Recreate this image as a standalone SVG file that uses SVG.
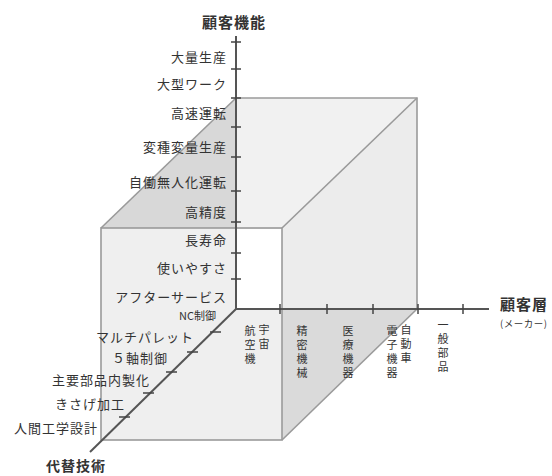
<svg xmlns="http://www.w3.org/2000/svg" width="552" height="476" viewBox="0 0 552 476">
<style>
text{font-family:"Noto Sans CJK JP","Noto Sans",sans-serif;fill:#333}
.lb{font-size:13px;letter-spacing:1px;text-anchor:end}
.vt{font-size:11px;writing-mode:vertical-rl;letter-spacing:3px}
.ttl{font-size:15px;font-weight:bold;letter-spacing:1px}
.edge{stroke:#9a9a9a;stroke-width:1.6;fill:none}
.axis{stroke:#555;stroke-width:2;fill:none}
.tick{stroke:#444;stroke-width:1.5}
</style>
<rect width="552" height="476" fill="#fff"/>
<g id="cube">
  <polygon points="101,228 236,98 236,309 101,440" fill="#d8d8d8"/>
  <polygon points="101,440 236,309 417,309 282,440" fill="#dadada"/>
  <rect x="236" y="98" width="181" height="211" fill="#f1f1f1"/>
  <polygon points="282,228 417,98 417,309 282,309" fill="#ececec"/>
  <rect x="101" y="228" width="181" height="212" fill="#efefef"/>
  <rect x="237" y="229" width="45" height="80" fill="#fff"/>
  <g class="edge">
    <polyline points="236,98 417,98 417,309"/>
    <line x1="101" y1="228" x2="236" y2="98"/>
    <line x1="282" y1="228" x2="417" y2="98"/>
    <line x1="282" y1="440" x2="417" y2="309"/>
    <rect x="101" y="228" width="181" height="212"/>
  </g>
</g>
<g id="connectors">
  <line class="axis" x1="236" y1="36" x2="236" y2="309"/>
  <line class="axis" x1="236" y1="309" x2="489" y2="309"/>
  <line class="axis" x1="236" y1="309" x2="90" y2="452"/>
  <g class="tick">
    <line x1="231" y1="42" x2="241" y2="42"/>
    <line x1="231" y1="69" x2="241" y2="69"/>
    <line x1="231" y1="98" x2="241" y2="98"/>
    <line x1="231" y1="127" x2="241" y2="127"/>
    <line x1="231" y1="157" x2="241" y2="157"/>
    <line x1="231" y1="191" x2="241" y2="191"/>
    <line x1="231" y1="222" x2="241" y2="222"/>
    <line x1="231" y1="253" x2="241" y2="253"/>
    <line x1="231" y1="279" x2="241" y2="279"/>
    <line x1="280" y1="304" x2="280" y2="314"/>
    <line x1="327" y1="304" x2="327" y2="314"/>
    <line x1="373" y1="304" x2="373" y2="314"/>
    <line x1="418" y1="304" x2="418" y2="314"/>
    <line x1="463" y1="304" x2="463" y2="314"/>
    <line x1="210" y1="332" x2="221" y2="332"/>
    <line x1="187" y1="352" x2="198" y2="352"/>
    <line x1="166" y1="372" x2="177" y2="372"/>
    <line x1="143" y1="393" x2="154" y2="393"/>
    <line x1="119" y1="417" x2="130" y2="417"/>
  </g>
</g>
<g id="axis-y-labels">
  <text class="ttl" x="202" y="28">顧客機能</text>
  <text class="lb" x="227" y="62">大量生産</text>
  <text class="lb" x="227" y="89">大型ワーク</text>
  <text class="lb" x="227" y="118">高速運転</text>
  <text class="lb" x="227" y="152">変種変量生産</text>
  <text class="lb" x="227" y="187">自働無人化運転</text>
  <text class="lb" x="227" y="217">高精度</text>
  <text class="lb" x="227" y="245">長寿命</text>
  <text class="lb" x="227" y="273">使いやすさ</text>
  <text class="lb" x="227" y="302">アフターサービス</text>
</g>
<g id="axis-x-labels">
  <text class="ttl" x="500" y="310">顧客層</text>
  <text x="500" y="327" style="font-size:9.5px;letter-spacing:0.5px">(メーカー)</text>
  <text class="vt" x="264" y="324">宇宙</text>
  <text class="vt" x="250" y="325">航空機</text>
  <text class="vt" x="302" y="325">精密機械</text>
  <text class="vt" x="348" y="325">医療機器</text>
  <text class="vt" x="406" y="324">自動車</text>
  <text class="vt" x="392" y="325">電子機器</text>
  <text class="vt" x="443" y="319">一般部品</text>
</g>
<g id="axis-z-labels">
  <text class="lb" x="216" y="320" style="font-size:11px;letter-spacing:0">NC制御</text>
  <text class="lb" x="194" y="342">マルチパレット</text>
  <text class="lb" x="168" y="363">５軸制御</text>
  <text class="lb" x="150" y="385">主要部品内製化</text>
  <text class="lb" x="125" y="409">きさげ加工</text>
  <text class="lb" x="98" y="433">人間工学設計</text>
  <text class="ttl" x="46" y="471" style="font-size:14px">代替技術</text>
</g>
</svg>
